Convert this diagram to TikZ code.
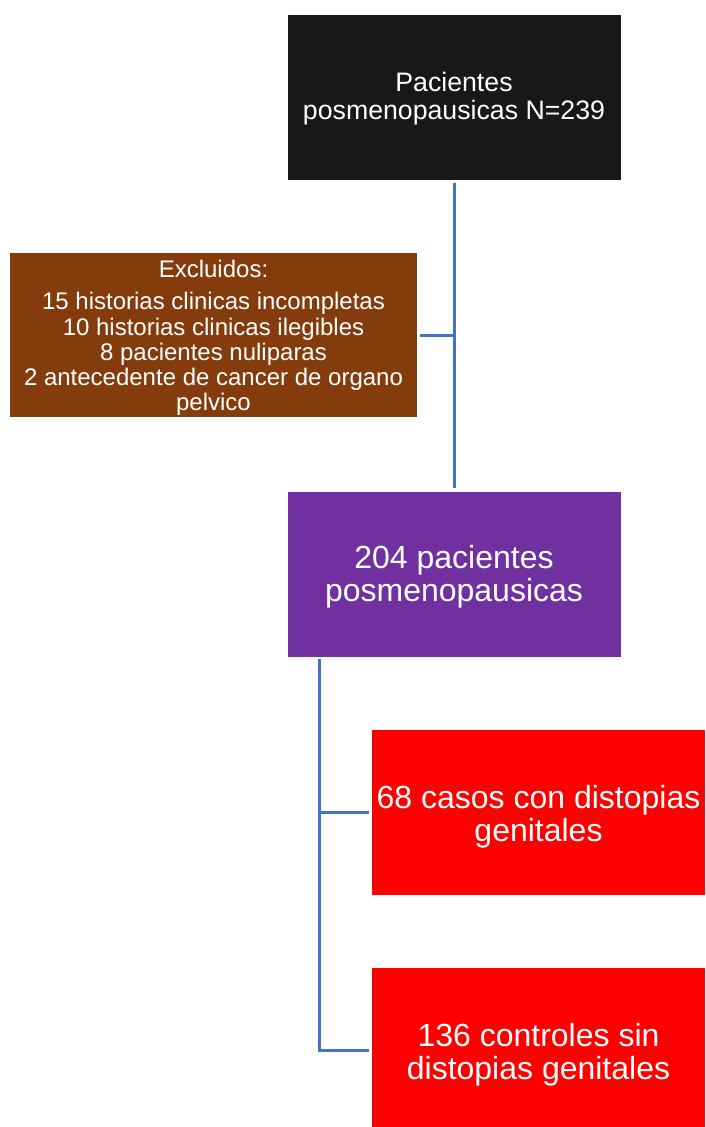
\documentclass[tikz,border=0pt]{standalone}
\usepackage{fontspec}
\setmainfont{Liberation Sans}
\definecolor{boxblack}{HTML}{181818}
\definecolor{boxbrown}{HTML}{843C0C}
\definecolor{boxpurple}{HTML}{7030A0}
\definecolor{boxred}{HTML}{FF0000}
\definecolor{linkblue}{HTML}{4472C4}
\begin{document}
\begin{tikzpicture}[x=1pt,y=-1pt,
  box/.style={fill=#1, draw=none, inner sep=0pt,
    minimum width=333pt, minimum height=165pt},
  lbl/.style={text=white, align=center, inner sep=0pt},
  link/.style={draw=linkblue, line width=3pt}]
\useasboundingbox (0,0) rectangle (705,1127);
\node[box=boxblack] (top) at (454,97.5) {};
\node[lbl, font=\fontsize{26.7}{28.5}\selectfont] (topt) at ([yshift=-1pt]top.center)
  {Pacientes\\posmenopausicas N=239};
\node[box=boxbrown, minimum width=407pt, minimum height=164pt] (excl) at (213.5,335) {};
\node[lbl, font=\fontsize{24}{25.2}\selectfont] (exclt) at ([yshift=-3pt]excl.center)
  {Excluidos:\\[7pt]15 historias clinicas incompletas\\10 historias clinicas ilegibles\\8 pacientes nuliparas\\2 antecedente de cancer de organo\\pelvico};
\node[box=boxpurple] (mid) at (454,574) {};
\node[lbl, font=\fontsize{32}{33}\selectfont] (midt) at ([yshift=-3pt]mid.center)
  {204 pacientes\\posmenopausicas};
\node[box=boxred] (c1) at (538.5,812) {};
\node[lbl, font=\fontsize{32}{33}\selectfont] (c1t) at ([yshift=-4.5pt]c1.center)
  {68 casos con distopias\\genitales};
\node[box=boxred] (c2) at (538.5,1050) {};
\node[lbl, font=\fontsize{32}{33}\selectfont] (c2t) at ([yshift=-4.5pt]c2.center)
  {136 controles sin\\distopias genitales};
\coordinate (t0) at (319,659);
\draw[link, shorten <=3pt, shorten >=3pt] (top.south) -- (mid.north);
\draw[link, shorten <=3pt] (excl.east) -- (excl.east -| top.south);
\draw[link, shorten >=3pt] (t0) |- (c1.west);
\draw[link, shorten >=3pt] (t0) |- (c2.west);
\end{tikzpicture}
\end{document}
